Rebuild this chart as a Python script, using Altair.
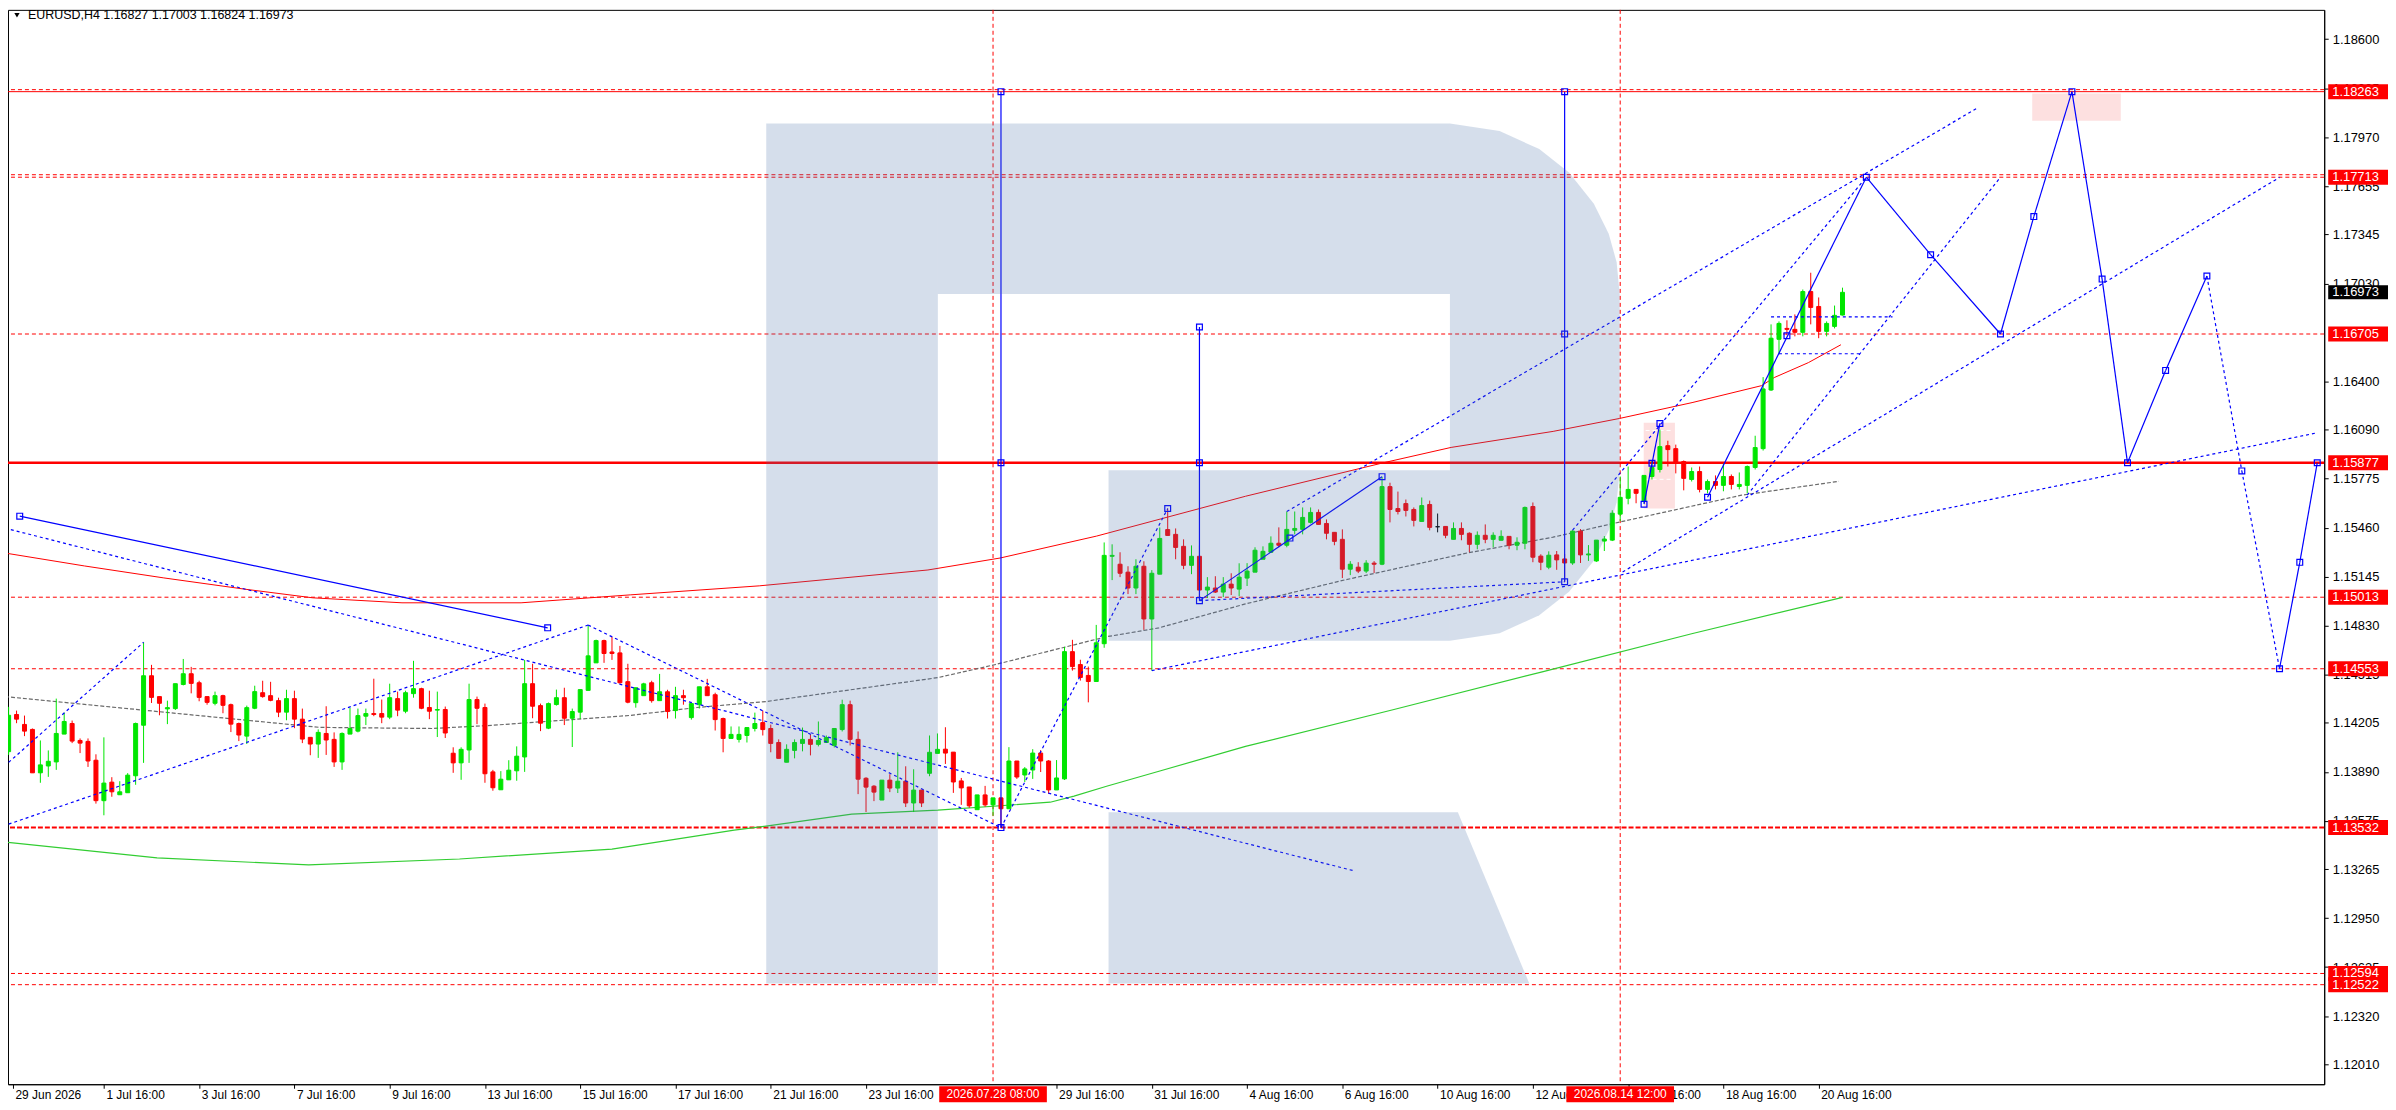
import altair as alt
import pandas as pd

# ---------------- candles (bar index: 0 = 29 Jun 2026 00:00, H4) ----------------
bar_idx = list(range(4, 236))
opens = [1.14020,1.14259,1.14195,1.14163,1.13884,1.13928,1.13954,1.14133,1.14201,1.14092,1.14086,1.13965,1.13705,1.13824,1.13743,1.13756,1.13865,1.14190,1.14508,1.14374,
1.14295,1.14297,1.14452,1.14521,1.14463,1.14374,1.14331,1.14380,1.14322,1.14201,1.14120,1.14299,1.14399,1.14380,1.14348,1.14274,1.14361,1.14229,1.14112,1.14069,
1.14137,1.14099,1.13954,1.14133,1.14152,1.14248,1.14265,1.14265,1.14242,1.14361,1.14280,1.14393,1.14425,1.14304,1.14287,1.14291,1.14010,1.13948,1.14031,1.14355,
1.14304,1.13890,1.13775,1.13839,1.13897,1.13986,1.14457,1.14316,1.14171,1.14323,1.14367,1.14235,1.14274,1.14414,1.14591,1.14734,1.14661,1.14655,1.14470,1.14335,
1.14380,1.14463,1.14348,1.14405,1.14284,1.14380,1.14239,1.14322,1.14437,1.14386,1.14233,1.14105,1.14099,1.14124,1.14169,1.14207,1.14169,1.14079,1.13952,1.14028,
1.14073,1.14099,1.14067,1.14079,1.14060,1.14162,1.14322,1.14099,1.13849,1.13798,1.13709,1.13837,1.13786,1.13830,1.13690,1.13773,1.13881,1.14009,1.14036,1.14017,
1.13832,1.13793,1.13647,1.13742,1.13678,1.13723,1.13653,1.13960,1.13870,1.13902,1.14011,1.13960,1.13774,1.13845,1.14663,1.14580,1.14510,1.14471,1.14714,1.15276,
1.15225,1.15174,1.15072,1.15212,1.14873,1.15161,1.15448,1.15417,1.15340,1.15218,1.15276,1.15059,1.15072,1.15046,1.15097,1.15065,1.15136,1.15174,1.15257,1.15302,
1.15360,1.15347,1.15443,1.15449,1.15494,1.15558,1.15487,1.15430,1.15385,1.15193,1.15206,1.15181,1.15232,1.15225,1.15724,1.15583,1.15615,1.15577,1.15500,1.15609,
1.15466,1.15468,1.15385,1.15455,1.15424,1.15353,1.15411,1.15385,1.15379,1.15404,1.15347,1.15360,1.15596,1.15277,1.15206,1.15285,1.15259,1.15233,1.15438,1.15285,
1.15246,1.15374,1.15380,1.15547,1.15649,1.15706,1.15630,1.15789,1.15834,1.15987,1.15968,1.15885,1.15770,1.15821,1.15706,1.15757,1.15732,1.15789,1.15725,1.15732,
1.15847,1.15968,1.16345,1.16671,1.16741,1.16735,1.16716,1.16978,1.16882,1.16722,1.16754,1.16827]
highs = [1.14308,1.14284,1.14252,1.14169,1.14092,1.14028,1.14361,1.14271,1.14220,1.14105,1.14105,1.14003,1.14112,1.13856,1.13830,1.13882,1.14207,1.14723,1.14578,1.14374,
1.14348,1.14457,1.14616,1.14565,1.14476,1.14374,1.14406,1.14386,1.14329,1.14207,1.14316,1.14444,1.14476,1.14469,1.14367,1.14418,1.14412,1.14297,1.14112,1.14163,
1.14312,1.14144,1.14144,1.14301,1.14297,1.14297,1.14489,1.14355,1.14457,1.14406,1.14412,1.14604,1.14431,1.14412,1.14406,1.14310,1.14048,1.14048,1.14457,1.14374,
1.14329,1.13903,1.13895,1.13965,1.14054,1.14610,1.14585,1.14329,1.14336,1.14419,1.14431,1.14297,1.14419,1.14834,1.14740,1.14740,1.14757,1.14700,1.14585,1.14431,
1.14463,1.14476,1.14520,1.14418,1.14437,1.14418,1.14329,1.14437,1.14488,1.14399,1.14239,1.14182,1.14182,1.14175,1.14271,1.14284,1.14194,1.14099,1.14067,1.14099,
1.14175,1.14131,1.14214,1.14124,1.14169,1.14354,1.14348,1.14150,1.13856,1.13805,1.13837,1.13875,1.14016,1.13926,1.13907,1.13773,1.14124,1.14137,1.14177,1.14017,
1.13851,1.13793,1.13742,1.13800,1.13723,1.13723,1.14049,1.13960,1.13921,1.14036,1.14030,1.13966,1.13966,1.14694,1.14739,1.14611,1.14567,1.14835,1.15365,1.15353,
1.15302,1.15212,1.15257,1.15244,1.15187,1.15461,1.15583,1.15455,1.15385,1.15346,1.15346,1.15142,1.15148,1.15142,1.15167,1.15231,1.15232,1.15334,1.15340,1.15404,
1.15462,1.15564,1.15564,1.15590,1.15590,1.15577,1.15513,1.15430,1.15449,1.15245,1.15238,1.15251,1.15245,1.15788,1.15749,1.15692,1.15641,1.15590,1.15654,1.15634,
1.15551,1.15468,1.15494,1.15494,1.15430,1.15436,1.15481,1.15430,1.15443,1.15404,1.15398,1.15596,1.15622,1.15289,1.15308,1.15310,1.15291,1.15444,1.15451,1.15348,
1.15380,1.15406,1.15572,1.15789,1.15853,1.15706,1.15796,1.15892,1.16090,1.16019,1.15994,1.15892,1.15847,1.15853,1.15770,1.15796,1.15872,1.15802,1.15815,1.15860,
1.16051,1.16428,1.16767,1.16786,1.16793,1.16831,1.16991,1.17099,1.16940,1.16786,1.16888,1.17003]
lows = [1.13999,1.14203,1.14120,1.13884,1.13820,1.13858,1.13903,1.14133,1.14075,1.14011,1.13922,1.13686,1.13611,1.13730,1.13743,1.13756,1.13807,1.13948,1.14333,1.14254,
1.14197,1.14288,1.14446,1.14395,1.14344,1.14322,1.14318,1.14267,1.14146,1.14088,1.14069,1.14293,1.14367,1.14344,1.14242,1.14222,1.14171,1.14075,1.13997,1.13980,
1.13999,1.13922,1.13903,1.14133,1.14144,1.14191,1.14248,1.14203,1.14229,1.14248,1.14267,1.14367,1.14293,1.14229,1.14114,1.14108,1.13884,1.13839,1.13948,1.14197,
1.13820,1.13769,1.13775,1.13839,1.13833,1.13890,1.14235,1.14152,1.14165,1.14316,1.14191,1.14050,1.14229,1.14414,1.14591,1.14591,1.14610,1.14457,1.14331,1.14303,
1.14380,1.14335,1.14348,1.14233,1.14233,1.14322,1.14226,1.14297,1.14380,1.14156,1.14016,1.14105,1.14079,1.14079,1.14150,1.14124,1.14016,1.13977,1.13952,1.13977,
1.14022,1.13996,1.14054,1.14079,1.14047,1.14150,1.14060,1.13747,1.13632,1.13702,1.13709,1.13760,1.13754,1.13664,1.13632,1.13664,1.13862,1.14009,1.13941,1.13755,
1.13678,1.13659,1.13647,1.13666,1.13608,1.13531,1.13653,1.13845,1.13825,1.13845,1.13889,1.13749,1.13774,1.13838,1.14541,1.14477,1.14337,1.14471,1.14688,1.15123,
1.15142,1.15033,1.15033,1.14803,1.14541,1.15161,1.15410,1.15257,1.15193,1.15161,1.15008,1.15008,1.15040,1.15014,1.15027,1.15020,1.15085,1.15174,1.15257,1.15302,
1.15334,1.15334,1.15417,1.15417,1.15487,1.15481,1.15385,1.15347,1.15136,1.15155,1.15168,1.15168,1.15168,1.15219,1.15494,1.15545,1.15532,1.15468,1.15500,1.15443,
1.15430,1.15392,1.15385,1.15379,1.15302,1.15321,1.15360,1.15334,1.15379,1.15321,1.15315,1.15321,1.15238,1.15187,1.15193,1.15189,1.15112,1.15221,1.15233,1.15246,
1.15240,1.15310,1.15374,1.15502,1.15610,1.15617,1.15617,1.15770,1.15815,1.15853,1.15809,1.15700,1.15757,1.15687,1.15681,1.15706,1.15694,1.15706,1.15706,1.15681,
1.15834,1.15956,1.16339,1.16575,1.16697,1.16690,1.16690,1.16767,1.16678,1.16690,1.16741,1.16824]
closes = [1.14254,1.14229,1.14152,1.13884,1.13935,1.13958,1.14137,1.14214,1.14088,1.14075,1.13960,1.13705,1.13818,1.13762,1.13762,1.13869,1.14201,1.14508,1.14369,1.14331,
1.14303,1.14457,1.14521,1.14459,1.14369,1.14337,1.14380,1.14318,1.14197,1.14127,1.14303,1.14406,1.14374,1.14350,1.14274,1.14361,1.14229,1.14101,1.14069,1.14144,
1.14095,1.13954,1.14137,1.14169,1.14252,1.14265,1.14259,1.14242,1.14367,1.14287,1.14399,1.14425,1.14299,1.14280,1.14291,1.14140,1.13948,1.14035,1.14355,1.14299,
1.13878,1.13788,1.13843,1.13901,1.13991,1.14457,1.14312,1.14203,1.14329,1.14367,1.14235,1.14278,1.14419,1.14636,1.14734,1.14651,1.14651,1.14463,1.14338,1.14431,
1.14456,1.14348,1.14405,1.14278,1.14380,1.14367,1.14329,1.14437,1.14380,1.14226,1.14105,1.14131,1.14131,1.14175,1.14201,1.14162,1.14073,1.13977,1.14035,1.14079,
1.14099,1.14067,1.14092,1.14111,1.14169,1.14322,1.14099,1.13843,1.13792,1.13760,1.13837,1.13786,1.13830,1.13690,1.13773,1.13690,1.14016,1.14035,1.14011,1.13825,
1.13787,1.13672,1.13742,1.13678,1.13723,1.13653,1.13960,1.13857,1.13909,1.14011,1.13960,1.13774,1.13851,1.14663,1.14567,1.14497,1.14471,1.14720,1.15282,1.15282,
1.15167,1.15072,1.15212,1.14873,1.15167,1.15391,1.15410,1.15333,1.15218,1.15276,1.15059,1.15078,1.15046,1.15097,1.15072,1.15142,1.15181,1.15315,1.15308,1.15360,
1.15347,1.15449,1.15455,1.15526,1.15558,1.15481,1.15424,1.15372,1.15193,1.15225,1.15181,1.15232,1.15225,1.15724,1.15577,1.15564,1.15571,1.15507,1.15602,1.15462,
1.15466,1.15411,1.15455,1.15417,1.15353,1.15411,1.15385,1.15411,1.15404,1.15347,1.15366,1.15590,1.15270,1.15238,1.15283,1.15253,1.15233,1.15438,1.15285,1.15291,
1.15380,1.15387,1.15553,1.15655,1.15706,1.15681,1.15796,1.15847,1.15981,1.15962,1.15879,1.15777,1.15821,1.15706,1.15757,1.15732,1.15789,1.15738,1.15738,1.15853,
1.15975,1.16352,1.16678,1.16773,1.16735,1.16716,1.16978,1.16876,1.16722,1.16773,1.16825,1.16973]

# ---------------- moving averages (read at sample bars) ----------------
red_ma_i = [3.55,13.55,23.55,33.55,42.3,53.55,68.55,82.3,98.55,119.8,128.9,141.05,159.8,176.9,185.7,198.55,206.9,216.05,224.8,226.4,230.7,234.8]
red_ma_p = [1.15297,1.15214,1.15137,1.15066,1.15009,1.14977,1.14977,1.15028,1.15086,1.15188,1.15265,1.15406,1.15662,1.15874,1.15976,1.16079,1.16162,1.16264,1.16373,1.16425,1.16521,1.16636]
green_ma_i = [3.55,22.7,41.8,60.8,80.0,95.4,99.4,110.2,121.05,135.2,138.2,142.3,148.9,159.8,178.5,197.3,216.0,235.0]
green_ma_p = [1.13439,1.13337,1.13292,1.13330,1.13394,1.13516,1.13541,1.13618,1.13644,1.13695,1.13734,1.13798,1.13894,1.14054,1.14291,1.14535,1.14778,1.15012]
gray_ma_i = [3.55,43.2,57.3,64.8,82.3,90.7,99.4,121.05,128.2,142.3,148.9,159.8,172.3,187.7,198.55,206.9,222.3,234.55]
gray_ma_p = [1.14374,1.14176,1.14169,1.14189,1.14253,1.14304,1.14342,1.14496,1.14579,1.14759,1.14816,1.14970,1.15124,1.15297,1.15399,1.15496,1.15669,1.15758]

# ---------------- horizontal levels ----------------
dash_levels = [1.17729, 1.17713, 1.16705, 1.15013, 1.14553, 1.12594, 1.12522, 1.18276]
solid_level = [1.18263]
main_level = [1.15877]
bold_level = [1.13532]
label_levels = [1.18263, 1.17713, 1.16705, 1.15877, 1.15013, 1.14553, 1.13532, 1.12594, 1.12522]
last_price = [1.16973]
v_marks = [128, 207]
v_labels = ["2026.07.28 08:00", "2026.08.14 12:00"]

# ---------------- analysis objects (bar index, price) ----------------
solid_seg = [
    (5.4, 1.15534, 71.9, 1.14816),
    (129, 1.13532, 129, 1.18263),
    (154, 1.14991, 154, 1.16750),
    (200, 1.15112, 200, 1.18263),
    (154, 1.14991, 177, 1.15788),
    (210, 1.15611, 212, 1.16130),
    (218, 1.15656, 238, 1.17713),
    (238, 1.17713, 246.1, 1.17215), (246.1, 1.17215, 254.9, 1.16705),
    (254.9, 1.16705, 259.1, 1.17460), (259.1, 1.17460, 263.9, 1.18263),
    (263.9, 1.18263, 267.7, 1.17058), (267.7, 1.17058, 270.9, 1.15877),
    (270.9, 1.15877, 275.7, 1.16471), (275.7, 1.16471, 280.9, 1.17078),
    (290.05, 1.14553, 292.6, 1.15237), (292.6, 1.15237, 294.8, 1.15877),
]
dash_seg = [
    (3.55, 1.15457, 173.55, 1.13253),
    (4.0, 1.13554, 77, 1.14834),
    (4.0, 1.13951, 21, 1.14723),
    (77, 1.14834, 129, 1.13531),
    (129, 1.13531, 150, 1.15583),
    (154, 1.14991, 200, 1.15112),
    (148, 1.14541, 294.8, 1.16070),
    (165, 1.15564, 251.9, 1.18155),
    (207.3, 1.15175, 290.05, 1.17712),
    (201, 1.15444, 238, 1.17713),
    (223, 1.15669, 254.9, 1.17713),
    (226, 1.16815, 241.3, 1.16815),
    (227, 1.16578, 237.3, 1.16578),
    (280.9, 1.17078, 285.3, 1.15825), (285.3, 1.15825, 290.05, 1.14553),
]
squares = [(5.4,1.15534),(71.9,1.14816),(129,1.18263),(129,1.15877),(129,1.13532),(150,1.15583),
           (154,1.16750),(154,1.15877),(154,1.14991),(165.4,1.15393),(177,1.15788),
           (200,1.18263),(200,1.16705),(200,1.15112),(210,1.15611),(211,1.15874),(212,1.16130),
           (218,1.15656),(228,1.16694),(238,1.17713),(246.1,1.17215),(254.9,1.16705),(259.1,1.17460),
           (263.9,1.18263),(267.7,1.17058),(270.9,1.15877),(275.7,1.16471),(280.9,1.17078),
           (285.3,1.15825),(290.05,1.14553),(292.6,1.15237),(294.8,1.15877)]
pink_boxes = [(209.96, 1.15583, 213.89, 1.16134), (258.9, 1.18076, 270.05, 1.18252)]
pink_inner = [1.16085, 1.15771]

# ---------------- watermark logo (bar index, price) ----------------
logo_rects = [(99.43, 1.12529, 121.05, 1.18058), (121.05, 1.16963, 185.55, 1.18058), (142.55, 1.14733, 185.55, 1.15829)]
logo_arc_i = [185.55, 191.8, 196.8, 200.55, 203.68, 205.55, 206.55, 206.93]
logo_arc_top = [1.18058, 1.18010, 1.17894, 1.17743, 1.17543, 1.17349, 1.17167, 1.16963]
logo_arc_bot = [1.14733, 1.14781, 1.14897, 1.15048, 1.15248, 1.15442, 1.15624, 1.15829]
logo_leg_i = [142.55, 186.55, 195.55]
logo_leg_top = [1.13631, 1.13631, 1.12529]
logo_leg_bot = [1.12529, 1.12529, 1.12529]

y_ticks = [1.18600,1.18285,1.17970,1.17655,1.17345,1.17030,1.16400,1.16090,1.15775,1.15460,
           1.15145,1.14830,1.14515,1.14205,1.13890,1.13575,1.13265,1.12950,1.12635,1.12320,1.12010]
x_ticks = [4.55,16,28,40,52,64,76,88,100,112,136,148,160,172,184,196,208,220,232]
x_labels = ['29 Jun 2026','1 Jul 16:00','3 Jul 16:00','7 Jul 16:00','9 Jul 16:00','13 Jul 16:00','15 Jul 16:00',
            '17 Jul 16:00','21 Jul 16:00','23 Jul 16:00','29 Jul 16:00','31 Jul 16:00','4 Aug 16:00',
            '6 Aug 16:00','10 Aug 16:00','12 Aug 16:00','14 Aug 16:00','18 Aug 16:00','20 Aug 16:00']
header = "EURUSD,H4  1.16827 1.17003 1.16824 1.16973"

# ================= chart =================
W, H = 2324, 1078
FONT = "Liberation Sans"
XS = alt.Scale(domain=[4.55, 295.05], nice=False, zero=False)
YS = alt.Scale(domain=[1.11882, 1.18789], nice=False, zero=False)
label_expr = "[" + ",".join("'%s'" % s for s in x_labels) + "][indexof([" + ",".join(str(v) for v in x_ticks) + "], datum.value)]"
XA = alt.Axis(values=x_ticks, labelExpr=label_expr, labelAlign="left", labelOffset=2, labelPadding=1,
              tickSize=4, labelFont=FONT, labelFontSize=12, labelColor="black", tickColor="black",
              domainColor="black", grid=False, title=None, labelOverlap=False, labelFlush=False, labelBound=False)
YA = alt.Axis(values=y_ticks, format=".5f", orient="right", labelPadding=4, tickSize=4, labelFont=FONT,
              labelFontSize=13, labelColor="black", tickColor="black", domainColor="black", grid=False,
              title=None, labelOverlap=False, labelFlush=False, labelBaseline="middle")

def X(f):
    return alt.X(f, type="quantitative", scale=XS, axis=XA)

def Yq(f):
    return alt.Y(f, type="quantitative", scale=YS, axis=YA)

candles = pd.DataFrame({"i": bar_idx, "o": opens, "h": highs, "l": lows, "c": closes})
candles["dir"] = ["up" if c > o else ("down" if c < o else "flat") for o, c in zip(opens, closes)]
cscale = alt.Scale(domain=["up", "down", "flat"], range=["#00e600", "#ff0000", "#000000"])

layers = []

# pink boxes (behind)
pb = pd.DataFrame(pink_boxes, columns=["x1", "y1", "x2", "y2"])
layers.append(alt.Chart(pb).mark_rect(color="#fde0e0", clip=True).encode(x=X("x1"), x2="x2", y=Yq("y1"), y2="y2"))
pi = pd.DataFrame({"p": pink_inner, "x1": [210.2] * 2, "x2": [213.7] * 2})
layers.append(alt.Chart(pi).mark_rule(color="white", strokeDash=[4, 3], strokeWidth=1).encode(x=X("x1"), x2="x2", y=Yq("p")))

# horizontal levels
def hlines(vals, **kw):
    return alt.Chart(pd.DataFrame({"p": vals})).mark_rule(color="#ff0000", **kw).encode(y=Yq("p"))

layers.append(hlines(dash_levels, strokeDash=[4, 3], strokeWidth=1))
layers.append(hlines(solid_level, strokeWidth=1))
layers.append(hlines(bold_level, strokeDash=[5, 2], strokeWidth=2))
layers.append(hlines(main_level, strokeWidth=2.5))
layers.append(alt.Chart(pd.DataFrame({"i": v_marks})).mark_rule(color="#ff0000", strokeDash=[4, 3], strokeWidth=1).encode(x=X("i")))

# moving averages
layers.append(alt.Chart(pd.DataFrame({"i": red_ma_i, "p": red_ma_p})).mark_line(color="#ff0000", strokeWidth=1, clip=True).encode(x=X("i"), y=Yq("p")))
layers.append(alt.Chart(pd.DataFrame({"i": green_ma_i, "p": green_ma_p})).mark_line(color="#32cd32", strokeWidth=1.2, clip=True).encode(x=X("i"), y=Yq("p")))
layers.append(alt.Chart(pd.DataFrame({"i": gray_ma_i, "p": gray_ma_p})).mark_line(color="#6a6a6a", strokeWidth=1.2, strokeDash=[4, 2], clip=True).encode(x=X("i"), y=Yq("p")))

# candles
layers.append(alt.Chart(candles).mark_rule(strokeWidth=1, clip=True).encode(
    x=X("i"), y=Yq("l"), y2="h", color=alt.Color("dir:N", scale=cscale, legend=None)))
layers.append(alt.Chart(candles).mark_bar(size=4, strokeWidth=1, clip=True).encode(
    x=X("i"), y=Yq("o"), y2="c", color=alt.Color("dir:N", scale=cscale, legend=None),
    stroke=alt.Stroke("dir:N", scale=cscale, legend=None)))

# analysis objects
sd = pd.DataFrame(solid_seg, columns=["x1", "y1", "x2", "y2"])
dd = pd.DataFrame(dash_seg, columns=["x1", "y1", "x2", "y2"])
layers.append(alt.Chart(sd).mark_rule(color="#0000ff", strokeWidth=1.2, clip=True).encode(x=X("x1"), x2="x2", y=Yq("y1"), y2="y2"))
layers.append(alt.Chart(dd).mark_rule(color="#0000ff", strokeWidth=1.2, strokeDash=[3, 3], clip=True).encode(x=X("x1"), x2="x2", y=Yq("y1"), y2="y2"))
sq = pd.DataFrame(squares, columns=["i", "p"])
layers.append(alt.Chart(sq).mark_point(shape="square", filled=False, size=34, color="#0000ff", strokeWidth=1.2, opacity=1, clip=True).encode(x=X("i"), y=Yq("p")))

# watermark (semi-transparent overlay)
LOGO = "#4872aa"
LA = 0.23
lr = pd.DataFrame(logo_rects, columns=["x1", "y1", "x2", "y2"])
layers.append(alt.Chart(lr).mark_rect(color=LOGO, opacity=LA).encode(x=X("x1"), x2="x2", y=Yq("y1"), y2="y2"))
la = pd.DataFrame({"i": logo_arc_i, "t": logo_arc_top, "b": logo_arc_bot})
layers.append(alt.Chart(la).mark_area(color=LOGO, opacity=LA).encode(x=X("i"), y=Yq("t"), y2="b"))
ll = pd.DataFrame({"i": logo_leg_i, "t": logo_leg_top, "b": logo_leg_bot})
layers.append(alt.Chart(ll).mark_area(color=LOGO, opacity=LA).encode(x=X("i"), y=Yq("t"), y2="b"))

# right-axis price boxes
lb = pd.DataFrame({"p": label_levels, "t": ["%.5f" % v for v in label_levels]})
layers.append(alt.Chart(lb).mark_tick(orient="horizontal", color="#ff0000", size=61, thickness=15, opacity=1).encode(
    y=Yq("p"), x=alt.value(W + 34.5)))
layers.append(alt.Chart(lb).mark_text(align="left", baseline="middle", font=FONT, fontSize=13, color="white").encode(
    y=Yq("p"), text="t:N", x=alt.value(W + 8)))
lp = pd.DataFrame({"p": last_price, "t": ["%.5f" % v for v in last_price]})
layers.append(alt.Chart(lp).mark_tick(orient="horizontal", color="#000000", size=61, thickness=14, opacity=1).encode(
    y=Yq("p"), x=alt.value(W + 34.5)))
layers.append(alt.Chart(lp).mark_text(align="left", baseline="middle", font=FONT, fontSize=13, color="white").encode(
    y=Yq("p"), text="t:N", x=alt.value(W + 8)))

# bottom time boxes
vb = pd.DataFrame({"i": v_marks, "t": v_labels})
layers.append(alt.Chart(vb).mark_tick(orient="vertical", color="#ff0000", size=16, thickness=108, opacity=1).encode(
    x=X("i"), y=alt.value(H + 10)))
layers.append(alt.Chart(vb).mark_text(align="center", baseline="middle", font=FONT, fontSize=12, color="white").encode(
    x=X("i"), text="t:N", y=alt.value(H + 10)))

# header
layers.append(alt.Chart(pd.DataFrame({"t": [header]})).mark_text(align="left", baseline="middle", font=FONT, fontSize=12.5, color="black").encode(
    text="t:N", x=alt.value(20), y=alt.value(5.5)))
layers.append(alt.Chart(pd.DataFrame({"t": ["v"]})).mark_point(shape="triangle-down", filled=True, size=28, color="black", opacity=1).encode(
    x=alt.value(9), y=alt.value(5.5)))

chart = alt.layer(*layers).properties(
    width=W, height=H,
    autosize=alt.AutoSizeParams(type="none"),
    padding={"left": 0, "top": 0, "right": 64, "bottom": 24},
    background="white",
).configure_view(stroke="black", strokeWidth=1)

chart.save("out.html", embed_options={"renderer": "svg", "actions": False})
